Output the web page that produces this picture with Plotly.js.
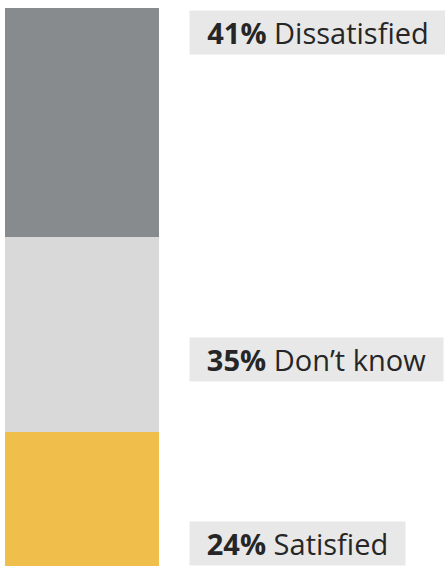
<!DOCTYPE html>
<html><head><meta charset="utf-8">
<script src="https://cdn.plot.ly/plotly-3.0.1.min.js"></script>
<style>html,body{margin:0;padding:0;background:#fff;}</style>
</head><body>
<div id="chart" style="width:445px;height:567px;"></div>
<script>
const categories = ["Satisfied", "Don’t know", "Dissatisfied"];
const values = [24, 35, 41];
const colors = ["#f0be4a", "#d9d9d9", "#888b8e"];

const FONT = "Open Sans", FS = 29;
const ctx = document.createElement("canvas").getContext("2d");
function textWidth(pct, label) {
  ctx.font = "bold " + FS + "px '" + FONT + "'";
  const a = ctx.measureText(pct).width;
  ctx.font = FS + "px '" + FONT + "'";
  return a + ctx.measureText(" " + label).width;
}

const traces = categories.map((c, i) => ({
  type: "bar", x: [0], y: [values[i]], name: c,
  marker: {color: colors[i], line: {width: 0}},
  hoverinfo: "skip", width: 1
}));

let base = 0;
const annotations = categories.map((c, i) => {
  const lo = base, hi = base + values[i];
  base = hi;
  let y, yanchor, yshift;
  if (i === 0) { y = lo; yanchor = "bottom"; yshift = 0; }
  else if (i === categories.length - 1) { y = hi; yanchor = "top"; yshift = -2; }
  else { y = (lo + hi) / 2; yanchor = "middle"; yshift = -25; }
  const w = textWidth(values[i] + "%", c);
  return {
    xref: "paper", yref: "y", x: 0.418, y: y, xanchor: "left", yanchor: yanchor, yshift: yshift,
    text: "<b>" + values[i] + "%</b> " + c,
    width: Math.round(w + 26), height: 35,
    showarrow: false, bgcolor: "#e8e8e8", borderpad: 4,
    font: {family: FONT, size: FS, color: "#262626"}, align: "center", valign: "middle"
  };
});

const layout = {
  width: 445, height: 567,
  margin: {l: 5, r: 0, t: 8, b: 1, pad: 0},
  paper_bgcolor: "#fff", plot_bgcolor: "#fff",
  barmode: "stack", bargap: 0, showlegend: false,
  xaxis: {domain: [0, 0.35], range: [-0.5, 0.5], visible: false, fixedrange: true},
  yaxis: {range: [0, 100], visible: false, fixedrange: true},
  annotations: annotations
};
Plotly.newPlot("chart", traces, layout, {displayModeBar: false, staticPlot: true});
</script>
</body></html>
